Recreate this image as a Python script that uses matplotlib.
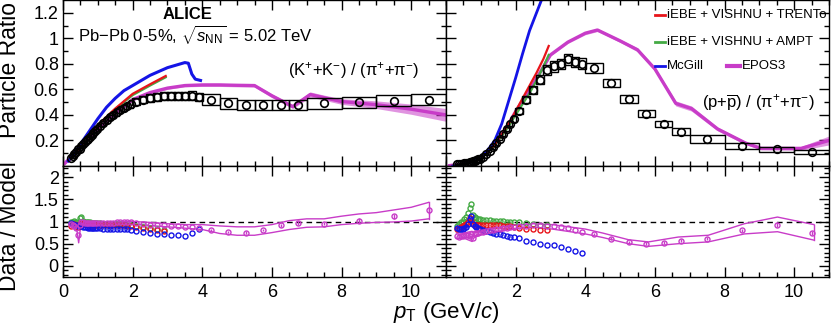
import numpy as np
import matplotlib.pyplot as plt
from matplotlib.patches import Rectangle

plt.rcParams['font.family'] = ['Liberation Sans', 'DejaVu Sans']
plt.rcParams['mathtext.fontset'] = 'custom'
plt.rcParams['mathtext.rm'] = 'Liberation Sans'
plt.rcParams['mathtext.it'] = 'Liberation Sans:italic'
plt.rcParams['mathtext.bf'] = 'Liberation Sans:bold'

RED = '#e8141a'
GREEN = '#44aa44'
BLUE = '#1414e6'
MAG = '#c83cc8'

# measured pT bin centres (GeV/c)
pt_k = [0.225, 0.275, 0.325, 0.375, 0.425, 0.475, 0.525, 0.575, 0.625, 0.675,
        0.725, 0.775, 0.825, 0.875, 0.925, 0.975,
        1.05, 1.15, 1.25, 1.35, 1.45, 1.55, 1.65, 1.75, 1.85, 1.95,
        2.1, 2.3, 2.5, 2.7, 2.9, 3.1, 3.3, 3.5, 3.7, 3.9,
        4.25, 4.75, 5.25, 5.75, 6.25, 6.75, 7.5, 8.5, 9.5, 10.5]
pt_p = pt_k[2:]
half_w = [0.025] * 16 + [0.05] * 10 + [0.12] * 10 + [0.25] * 6 + [0.5] * 4

# (K+ + K-)/(pi+ + pi-) data
k_val = [0.065, 0.08, 0.095, 0.11, 0.13, 0.135, 0.155, 0.17, 0.185, 0.20,
         0.215, 0.23, 0.245, 0.26, 0.275, 0.29,
         0.31, 0.335, 0.36, 0.38, 0.40, 0.42, 0.44, 0.455, 0.47, 0.485,
         0.505, 0.52, 0.53, 0.54, 0.545, 0.55, 0.55, 0.55, 0.55, 0.54,
         0.52, 0.49, 0.475, 0.48, 0.48, 0.475, 0.49, 0.50, 0.51, 0.52]
k_sys = [0.006, 0.007, 0.008, 0.009, 0.01, 0.011, 0.012, 0.012, 0.013, 0.014,
         0.015, 0.016, 0.017, 0.018, 0.018, 0.019,
         0.02, 0.021, 0.022, 0.023, 0.024, 0.025, 0.026, 0.026, 0.027, 0.028,
         0.03, 0.03, 0.031, 0.031, 0.032, 0.032, 0.033, 0.033, 0.034, 0.034,
         0.04, 0.04, 0.04, 0.04, 0.04, 0.04, 0.04, 0.042, 0.043, 0.045]

# (p + pbar)/(pi+ + pi-) data
p_val = [0.012, 0.014, 0.016, 0.018, 0.02, 0.022, 0.025, 0.028, 0.032, 0.036,
         0.041, 0.046, 0.052, 0.058,
         0.072, 0.092, 0.115, 0.145, 0.18, 0.215, 0.25, 0.29, 0.33, 0.37,
         0.43, 0.52, 0.595, 0.675, 0.75, 0.78, 0.80, 0.835, 0.815, 0.80,
         0.77, 0.65, 0.525, 0.41, 0.33, 0.27, 0.21, 0.157, 0.131, 0.112]
p_sys = [0.002, 0.002, 0.002, 0.002, 0.003, 0.003, 0.003, 0.003, 0.004, 0.004,
         0.004, 0.005, 0.005, 0.005,
         0.006, 0.007, 0.008, 0.01, 0.012, 0.014, 0.016, 0.018, 0.02, 0.022,
         0.026, 0.03, 0.033, 0.036, 0.038, 0.04, 0.04, 0.042, 0.042, 0.042,
         0.04, 0.035, 0.03, 0.027, 0.025, 0.025, 0.03, 0.02, 0.018, 0.016]

# model curves, K/pi
mc_k_x = [0.15, 0.3, 0.5, 0.75, 1.0, 1.25, 1.5, 1.75, 2.0, 2.25, 2.5, 2.75,
          3.0, 3.25, 3.5, 3.6, 3.7, 3.8, 3.95]
mc_k_y = [0.04, 0.09, 0.17, 0.27, 0.37, 0.46, 0.53, 0.59, 0.63, 0.67, 0.71, 0.74,
          0.77, 0.79, 0.81, 0.805, 0.72, 0.68, 0.67]
vis_k_x = [0.2, 0.5, 1.0, 1.5, 2.0, 2.5, 2.95]
trento_k_y = [0.05, 0.15, 0.32, 0.45, 0.565, 0.64, 0.705]
ampt_k_y = [0.05, 0.15, 0.32, 0.445, 0.555, 0.63, 0.695]
epos_k_x = [0.05, 0.5, 1.0, 1.5, 2.0, 2.5, 3.0, 3.5, 4.0, 4.5, 5.0, 5.5, 6.0,
            6.6, 7.1, 7.5, 8.0, 9.0, 10.0, 11.0]
epos_k_y = [0.02, 0.15, 0.29, 0.41, 0.52, 0.575, 0.61, 0.63, 0.635, 0.635, 0.632,
            0.63, 0.55, 0.465, 0.56, 0.535, 0.505, 0.48, 0.445, 0.40]
epos_k_w = [0.005, 0.008, 0.01, 0.01, 0.01, 0.01, 0.01, 0.01, 0.012, 0.012, 0.012,
            0.012, 0.015, 0.015, 0.02, 0.02, 0.022, 0.03, 0.04, 0.05]

# model curves, p/pi
mc_p_x = [0.2, 0.4, 0.6, 0.8, 1.0, 1.2, 1.4, 1.6, 1.8, 2.0, 2.2, 2.4, 2.6, 2.8]
mc_p_y = [0.0, 0.008, 0.02, 0.04, 0.075, 0.125, 0.2, 0.33, 0.51, 0.69, 0.88,
          1.06, 1.2, 1.34]
vis_p_x = [0.2, 0.6, 1.0, 1.4, 1.8, 2.0, 2.2, 2.4, 2.6, 2.8, 2.95]
trento_p_y = [0.003, 0.018, 0.065, 0.165, 0.33, 0.43, 0.53, 0.63, 0.73, 0.84, 0.94]
ampt_p_y = [0.003, 0.016, 0.06, 0.16, 0.31, 0.40, 0.485, 0.57, 0.67, 0.78, 0.87]
epos_p_x = [0.1, 0.6, 1.0, 1.4, 1.8, 2.0, 2.5, 3.0, 3.5, 4.0, 4.35, 5.0, 5.5,
            6.0, 6.6, 7.05, 7.8, 8.6, 9.05, 10.2, 11.0]
epos_p_y = [0.003, 0.02, 0.065, 0.17, 0.33, 0.426, 0.64, 0.87, 0.97, 1.04, 1.065,
            0.98, 0.91, 0.76, 0.49, 0.45, 0.29, 0.18, 0.138, 0.138, 0.2]
epos_p_w = [0.003, 0.005, 0.008, 0.01, 0.01, 0.01, 0.01, 0.01, 0.01, 0.012, 0.012,
            0.012, 0.015, 0.015, 0.02, 0.02, 0.015, 0.012, 0.012, 0.015, 0.035]

# data / model, K/pi
r_trento_k = [0.9, 0.92, 0.95, 0.93, 0.88, 0.95, 0.97, 0.95, 0.94, 0.94, 0.93, 0.93,
              0.93, 0.93, 0.93, 0.93, 0.93, 0.93, 0.92, 0.92, 0.92, 0.92, 0.91, 0.91,
              0.9, 0.9, 0.88, 0.85, 0.82, 0.8, 0.78]
r_ampt_k = [0.98, 1.0, 1.02, 1.0, 0.95, 1.08, 1.1, 1.02, 1.0, 0.99, 0.98, 0.98,
            0.97, 0.97, 0.97, 0.96, 0.96, 0.95, 0.95, 0.95, 0.95, 0.94, 0.94, 0.93,
            0.93, 0.92, 0.9, 0.87, 0.85, 0.83, 0.8]
r_mc_k = [0.97, 0.95, 0.93, 0.92, 0.9, 0.92, 0.9, 0.88, 0.87, 0.87, 0.86, 0.86,
          0.86, 0.86, 0.85, 0.85, 0.85, 0.84, 0.84, 0.83, 0.83, 0.83, 0.83, 0.82,
          0.82, 0.81, 0.79, 0.76, 0.74, 0.72, 0.71, 0.7, 0.69, 0.68, 0.73, 0.82]
r_epos_k = [0.95, 0.92, 0.9, 0.85, 0.7, 0.92, 1.0, 0.98, 0.97, 0.97, 0.97, 0.96,
            0.96, 0.96, 0.96, 0.96, 0.96, 0.96, 0.96, 0.97, 0.97, 0.98, 0.98, 0.98,
            0.98, 0.98, 0.97, 0.95, 0.93, 0.92, 0.91, 0.9, 0.89, 0.88, 0.87, 0.86,
            0.81, 0.76, 0.75, 0.81, 0.91, 0.97, 0.95, 1.02, 1.12, 1.25]
r_epos_k_err = [0.03, 0.03, 0.03, 0.03, 0.04, 0.04, 0.04, 0.05, 0.06, 0.08]
env_k_x = [0.2, 0.4, 0.45, 0.5, 0.7, 1.0, 1.5, 2.0, 2.5, 3.0, 3.5, 4.0, 4.5, 5.0,
           5.5, 6.0, 6.5, 7.0, 7.5, 8.0, 8.5, 9.0, 9.5, 10.0, 10.5]
env_k_hi = [1.0, 0.98, 0.9, 1.02, 1.02, 1.0, 0.99, 1.0, 0.98, 0.95, 0.93, 0.93, 0.9,
            0.88, 0.88, 0.93, 1.02, 1.06, 1.06, 1.12, 1.17, 1.2, 1.26, 1.32, 1.43]
env_k_lo = [0.9, 0.8, 0.52, 0.85, 0.92, 0.93, 0.93, 0.95, 0.91, 0.88, 0.85, 0.82,
            0.73, 0.69, 0.69, 0.75, 0.82, 0.87, 0.88, 0.93, 0.96, 0.98, 0.99, 1.01, 1.06]

# data / model, p/pi
r_trento_p = [0.82, 0.85, 0.87, 0.9, 0.93, 0.95, 1.0, 1.08, 1.02, 0.95, 0.93, 0.92,
              0.92, 0.92, 0.92, 0.92, 0.92, 0.92, 0.91, 0.91, 0.9, 0.9, 0.89, 0.88,
              0.86, 0.84, 0.82, 0.81, 0.8]
r_ampt_p = [0.9, 0.95, 0.98, 1.0, 1.05, 1.1, 1.2, 1.3, 1.4, 1.15, 1.1, 1.08, 1.06,
            1.05, 1.04, 1.03, 1.03, 1.02, 1.02, 1.01, 1.01, 1.0, 1.0, 1.0, 0.98,
            0.96, 0.94, 0.92, 0.91]
r_mc_p = [0.85, 0.83, 0.82, 0.84, 0.86, 0.88, 0.95, 1.05, 1.12, 0.95, 0.9, 0.88,
          0.86, 0.84, 0.8, 0.78, 0.76, 0.74, 0.72, 0.71, 0.69, 0.68, 0.66, 0.65,
          0.62, 0.57, 0.53, 0.5, 0.48, 0.46, 0.43, 0.38, 0.33, 0.29]
r_epos_p = [0.68, 0.66, 0.67, 0.68, 0.69, 0.7, 0.7, 0.68, 0.72, 0.62, 0.74, 0.74,
            0.75, 0.76, 0.77, 0.78, 0.8, 0.81, 0.82, 0.83, 0.85, 0.86, 0.87, 0.88,
            0.89, 0.9, 0.91, 0.91, 0.9, 0.89, 0.87, 0.86, 0.81, 0.77,
            0.72, 0.61, 0.53, 0.5, 0.52, 0.57, 0.61, 0.8, 0.93, 0.74]
r_epos_p_err = [0.03, 0.03, 0.03, 0.03, 0.03, 0.03, 0.03, 0.04, 0.05, 0.05]
env_p_x = [0.3, 0.5, 0.75, 0.8, 1.0, 1.5, 2.0, 2.5, 3.05, 4.0, 4.5, 5.24, 5.81,
           6.67, 7.53, 8.57, 9.52, 10.57]
env_p_hi = [0.74, 0.74, 0.78, 0.74, 0.8, 0.86, 0.92, 0.95, 0.93, 0.83, 0.74, 0.59,
            0.54, 0.65, 0.69, 0.95, 1.1, 0.93]
env_p_lo = [0.62, 0.63, 0.55, 0.63, 0.7, 0.78, 0.85, 0.87, 0.83, 0.72, 0.64, 0.5,
            0.44, 0.5, 0.54, 0.72, 0.77, 0.58]


def px(x):
    return x / 831.0


def py(y):
    return 1 - y / 333.0


def draw_data(ax, pt, val, sys, hw):
    for x, y, s, w in zip(pt, val, sys, hw):
        ax.add_patch(Rectangle((x - w, y - s), 2 * w, 2 * s, fill=False,
                               ec='black', lw=1.0, zorder=3))
    ax.plot(pt, val, 'o', ms=5.5, mfc='none', mec='black', mew=1.2, zorder=4)


def draw_band(ax, x, y, w):
    x = np.array(x)
    y = np.array(y)
    w = np.array(w)
    ax.fill_between(x, y - w, y + w, color=MAG, alpha=0.55, lw=0, zorder=2)
    ax.plot(x, y, color=MAG, lw=2.4, zorder=2)


def ratio_points(ax, pt, r, color):
    ax.plot(pt[:len(r)], r, 'o', ms=3.6, mfc='none', mec=color, mew=1.0, zorder=3)


def style(ax, xlim, ylim, ymajor, yminor):
    ax.set_xlim(*xlim)
    ax.set_ylim(*ylim)
    ax.set_xticks([0, 2, 4, 6, 8, 10])
    ax.set_xticks(np.arange(0, 11.01, 0.5), minor=True)
    ax.set_yticks(ymajor)
    ax.set_yticks(yminor, minor=True)
    ax.tick_params(which='both', direction='in', top=True, right=True,
                   labelsize=13, width=1.0)
    ax.tick_params(which='major', length=7, pad=3)
    ax.tick_params(which='minor', length=3.5)
    for s in ax.spines.values():
        s.set_linewidth(1.0)


fig = plt.figure(figsize=(8.31, 3.33), dpi=100)
axTL = fig.add_axes([px(63), py(166), 383 / 831, 166 / 333])
axTR = fig.add_axes([px(446), py(166), 383 / 831, 166 / 333])
axBL = fig.add_axes([px(63), py(277), 383 / 831, 111 / 333])
axBR = fig.add_axes([px(446), py(277), 383 / 831, 111 / 333])

top_major = [0.2, 0.4, 0.6, 0.8, 1.0, 1.2]
top_minor = np.arange(0.1, 1.3, 0.1)
bot_major = [0, 0.5, 1, 1.5, 2]
bot_minor = np.arange(-0.2, 2.25, 0.1)

style(axTL, (0, 10.94), (0, 1.3), top_major, top_minor)
style(axTR, (0.08, 11.0), (0, 1.3), top_major, top_minor)
style(axBL, (0, 10.94), (-0.25, 2.25), bot_major, bot_minor)
style(axBR, (0.08, 11.0), (-0.25, 2.25), bot_major, bot_minor)

axTL.set_yticklabels(['0.2', '0.4', '0.6', '0.8', '1', '1.2'])
axBL.set_yticklabels(['0', '0.5', '1', '1.5', '2'])
axTL.tick_params(labelbottom=False)
axTR.tick_params(labelbottom=False, labelleft=False)
axBR.tick_params(labelleft=False)
axBL.set_xticklabels(['0', '2', '4', '6', '8', '10'])
axBR.set_xticks([2, 4, 6, 8, 10])
axBR.set_xticklabels(['2', '4', '6', '8', '10'])
axBL.tick_params(axis='x', pad=5)
axBR.tick_params(axis='x', pad=5)

# top left: K/pi
draw_band(axTL, epos_k_x, epos_k_y, epos_k_w)
axTL.plot(vis_k_x, ampt_k_y, color=GREEN, lw=1.6, zorder=2)
axTL.plot(vis_k_x, trento_k_y, color=RED, lw=1.6, zorder=2)
axTL.plot(mc_k_x, mc_k_y, color=BLUE, lw=2.2, zorder=2)
draw_data(axTL, pt_k, k_val, k_sys, half_w)

# top right: p/pi
draw_band(axTR, epos_p_x, epos_p_y, epos_p_w)
axTR.plot(vis_p_x, ampt_p_y, color=GREEN, lw=1.6, zorder=2)
axTR.plot(vis_p_x, trento_p_y, color=RED, lw=1.6, zorder=2)
axTR.plot(mc_p_x, mc_p_y, color=BLUE, lw=2.0, zorder=2)
draw_data(axTR, pt_p, p_val, p_sys, half_w[2:])

# bottom panels
for ax in (axBL, axBR):
    ax.axhline(1.0, color='black', ls=(0, (4, 3)), lw=1.0, zorder=1)

axBL.plot(env_k_x, env_k_hi, color=MAG, lw=1.0, zorder=2)
axBL.plot(env_k_x, env_k_lo, color=MAG, lw=1.0, zorder=2)
axBL.plot([env_k_x[-1], env_k_x[-1]], [env_k_lo[-1], env_k_hi[-1]], color=MAG, lw=1.0)
ratio_points(axBL, pt_k, r_ampt_k, GREEN)
ratio_points(axBL, pt_k, r_trento_k, RED)
ratio_points(axBL, pt_k, r_mc_k, BLUE)
ratio_points(axBL, pt_k, r_epos_k, MAG)
axBL.errorbar(pt_k[36:], r_epos_k[36:], yerr=r_epos_k_err, fmt='none',
              ecolor=MAG, elinewidth=1.0, capsize=0, zorder=3)

axBR.plot(env_p_x, env_p_hi, color=MAG, lw=1.0, zorder=2)
axBR.plot(env_p_x, env_p_lo, color=MAG, lw=1.0, zorder=2)
axBR.plot([env_p_x[-1], env_p_x[-1]], [env_p_lo[-1], env_p_hi[-1]], color=MAG, lw=1.0)
ratio_points(axBR, pt_p, r_ampt_p, GREEN)
ratio_points(axBR, pt_p, r_trento_p, RED)
ratio_points(axBR, pt_p, r_mc_p, BLUE)
ratio_points(axBR, pt_p, r_epos_p, MAG)
axBR.errorbar(pt_p[34:], r_epos_p[34:], yerr=r_epos_p_err, fmt='none',
              ecolor=MAG, elinewidth=1.0, capsize=0, zorder=3)

# legend (top right)
def leg(ax, x0, x1, xt, y, color, text, lw):
    ax.plot([x0, x1], [y, y], color=color, lw=lw, transform=ax.transAxes, clip_on=False)
    ax.text(xt, y, text, transform=ax.transAxes, va='center', ha='left', fontsize=9.5)

leg(axTR, 0.546, 0.572, 0.577, 0.91, RED, 'iEBE + VISHNU + TRENTo', 2.0)
leg(axTR, 0.546, 0.572, 0.577, 0.747, GREEN, 'iEBE + VISHNU + AMPT', 2.0)
leg(axTR, 0.546, 0.572, 0.577, 0.602, BLUE, 'McGill', 2.0)
leg(axTR, 0.734, 0.768, 0.773, 0.602, MAG, 'EPOS3', 3.0)

# labels
fig.text(px(188), py(19), 'ALICE', fontsize=12, fontweight='bold', ha='center', va='baseline')
fig.text(px(78), py(41), r'Pb$-$Pb 0-5%, $\sqrt{s_{\rm NN}}$ = 5.02 TeV', fontsize=12,
         ha='left', va='baseline')
fig.text(px(288), py(75), r'(K$^{+}$+K$^{-}$) / (π$^{+}$+π$^{-}$)', fontsize=12,
         ha='left', va='baseline')
fig.text(px(702), py(108), r'(p+$\overline{\rm p}$) / (π$^{+}$+π$^{-}$)', fontsize=12,
         ha='left', va='baseline')
fig.text(px(10), py(138), 'Particle Ratio', fontsize=16.5, rotation=90,
         ha='center', va='bottom')
fig.text(px(10), py(291), 'Data / Model', fontsize=16.5, rotation=90,
         ha='center', va='bottom')
fig.text(px(446), py(318), r'$p_{\rm T}$ (GeV/$c$)', fontsize=16, ha='center', va='baseline')

fig.savefig('out.png', dpi=100)
